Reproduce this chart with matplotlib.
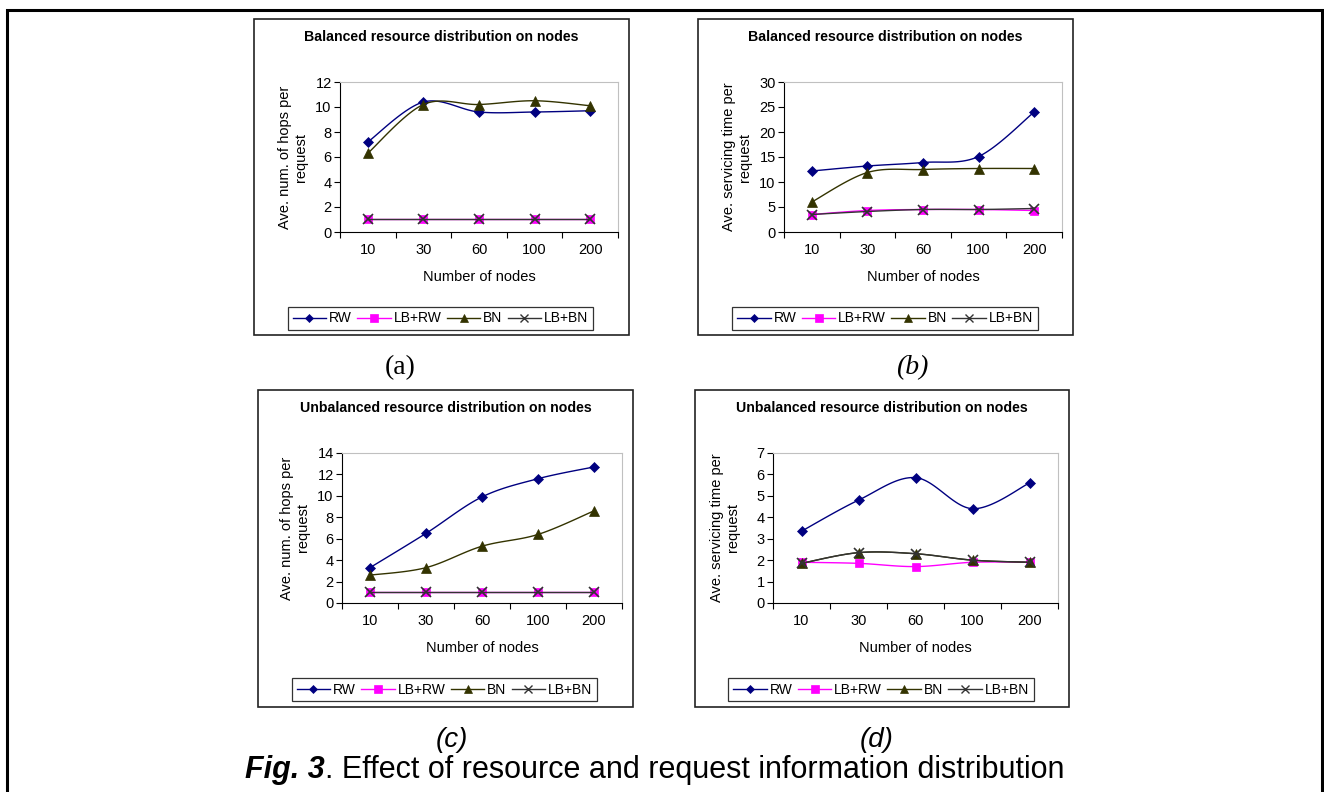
import numpy as np
import matplotlib
matplotlib.use("Agg")
import matplotlib.pyplot as plt
from matplotlib.patches import Rectangle
from matplotlib.lines import Line2D

plt.rcParams['font.family'] = ['Liberation Sans', 'DejaVu Sans']

W, H = 1324, 792

nodes = ["10", "30", "60", "100", "200"]
series_names = ["RW", "LB+RW", "BN", "LB+BN"]

# (a) balanced, hops
a_rw = [7.2, 10.4, 9.6, 9.6, 9.7]
a_lbrw = [1.05, 1.05, 1.05, 1.05, 1.05]
a_bn = [6.3, 10.2, 10.2, 10.5, 10.1]
a_lbbn = [1.05, 1.05, 1.05, 1.05, 1.05]

# (b) balanced, servicing time
b_rw = [12.2, 13.2, 13.9, 15.1, 24.0]
b_lbrw = [3.5, 4.3, 4.5, 4.5, 4.3]
b_bn = [6.0, 11.9, 12.5, 12.7, 12.7]
b_lbbn = [3.5, 4.1, 4.5, 4.5, 4.7]

# (c) unbalanced, hops
c_rw = [3.3, 6.5, 9.9, 11.6, 12.7]
c_lbrw = [1.0, 1.0, 1.0, 1.0, 1.0]
c_bn = [2.6, 3.3, 5.3, 6.4, 8.6]
c_lbbn = [1.0, 1.0, 1.0, 1.0, 1.0]

# (d) unbalanced, servicing time
d_rw = [3.35, 4.8, 5.85, 4.4, 5.6]
d_lbrw = [1.9, 1.85, 1.7, 1.9, 1.9]
d_bn = [1.85, 2.35, 2.3, 2.0, 1.9]
d_lbbn = [1.85, 2.35, 2.3, 2.0, 1.9]

colors = ["#000080", "#ff00ff", "#333300", "#333333"]
markers = ["D", "s", "^", "x"]
msizes = [5, 6, 6.5, 6.5]


def px(x0, y0, x1, y1):
    # pixel box (top-left origin) -> figure fraction rect
    return [x0 / W, 1 - y1 / H, (x1 - x0) / W, (y1 - y0) / H]


def smooth(y):
    # excel style smoothed line: cubic bezier with catmull-rom tangents
    x = np.arange(len(y), dtype=float)
    y = np.asarray(y, dtype=float)
    pts = np.c_[x, y]
    out = []
    for i in range(len(pts) - 1):
        p0 = pts[max(i - 1, 0)]
        p1 = pts[i]
        p2 = pts[i + 1]
        p3 = pts[min(i + 2, len(pts) - 1)]
        c1 = p1 + (p2 - p0) / 6.0
        c2 = p2 - (p3 - p1) / 6.0
        t = np.linspace(0, 1, 25)[:, None]
        seg = ((1 - t) ** 3) * p1 + 3 * ((1 - t) ** 2) * t * c1 + 3 * (1 - t) * t ** 2 * c2 + t ** 3 * p2
        out.append(seg if i == 0 else seg[1:])
    out = np.vstack(out)
    return out[:, 0], out[:, 1]


def panel(fig, frame, area, legend_box, title, ylabel, ymax, ystep, data):
    fig.patches.append(Rectangle((frame[0], frame[1]), frame[2], frame[3],
                                 transform=fig.transFigure, fill=False,
                                 edgecolor="#222222", linewidth=1.2))
    ax = fig.add_axes(area)
    for vals, c, m, ms in zip(data, colors, markers, msizes):
        sx, sy = smooth(vals)
        ax.plot(sx, sy, color=c, linewidth=1.0)
        ax.plot(np.arange(len(vals)), vals, linestyle="none", marker=m,
                color=c, markersize=ms, markeredgewidth=1.2 if m == "x" else 0.5)
    ax.set_xlim(-0.5, len(nodes) - 0.5)
    ax.set_ylim(0, ymax)
    ax.set_yticks(np.arange(0, ymax + 0.01, ystep))
    ax.set_xticks(np.arange(len(nodes)))
    ax.set_xticklabels(nodes)
    ax.set_xticks(np.arange(-0.5, len(nodes)), minor=True)
    ax.tick_params(axis="x", which="major", length=0, pad=8, labelsize=10.5)
    ax.tick_params(axis="x", which="minor", length=4, direction="out", width=0.8)
    ax.tick_params(axis="y", length=4, direction="out", width=0.8, labelsize=10.5, pad=2)
    for s in ["top", "right"]:
        ax.spines[s].set_color("#c0c0c0")
    for s in ["left", "bottom"]:
        ax.spines[s].set_color("black")
    ax.set_xlabel("Number of nodes", fontsize=10.5, labelpad=9)
    ax.set_ylabel(ylabel, fontsize=10.5, multialignment="center")
    ax.yaxis.set_label_coords(-0.115, 0.5)
    cx = frame[0] + frame[2] * 0.5
    fig.text(cx, frame[1] + frame[3] - 18 / H, title, ha="center", va="center",
             fontsize=10.2, fontweight="bold")
    handles = [Line2D([], [], color=c, marker=m, markersize=ms * 0.9, linewidth=1.0,
                      markeredgewidth=1.0 if m == "x" else 0.5)
               for c, m, ms in zip(colors, markers, msizes)]
    leg = fig.legend(handles, series_names, loc="center",
                     bbox_to_anchor=legend_box, ncol=4, fontsize=10,
                     handlelength=2.4, handletextpad=0.2, columnspacing=0.4,
                     borderpad=0.35, borderaxespad=0, fancybox=False, frameon=True,
                     numpoints=1)
    leg.get_frame().set_edgecolor("black")
    leg.get_frame().set_linewidth(0.9)
    return ax


fig = plt.figure(figsize=(W / 100, H / 100), dpi=100)

# outer frame of the figure
fig.patches.append(Rectangle((7 / W, -0.05), 1315 / W, 1.05 - 10 / H,
                             transform=fig.transFigure, fill=False,
                             edgecolor="black", linewidth=2.2))

panel(fig, px(254, 19, 629, 335), px(340, 82, 618, 232), (440.5 / W, 1 - 318.5 / H),
      "Balanced resource distribution on nodes", "Ave. num. of hops per\nrequest",
      12, 2, [a_rw, a_lbrw, a_bn, a_lbbn])
panel(fig, px(698, 19, 1073, 335), px(784, 82, 1062, 232), (885 / W, 1 - 318.5 / H),
      "Balanced resource distribution on nodes", "Ave. servicing time per\nrequest",
      30, 5, [b_rw, b_lbrw, b_bn, b_lbbn])
panel(fig, px(258, 390, 633, 707), px(342, 453, 622, 603), (444.5 / W, 1 - 689.5 / H),
      "Unbalanced resource distribution on nodes", "Ave. num. of hops per\nrequest",
      14, 2, [c_rw, c_lbrw, c_bn, c_lbbn])
panel(fig, px(695, 390, 1069, 707), px(773, 453, 1058, 603), (881 / W, 1 - 689.5 / H),
      "Unbalanced resource distribution on nodes", "Ave. servicing time per\nrequest",
      7, 1, [d_rw, d_lbrw, d_bn, d_lbbn])

serif = ["Liberation Serif", "DejaVu Serif"]
fig.text(400 / W, 1 - 368 / H, "(a)", ha="center", va="center", fontsize=20, family=serif)
fig.text(912 / W, 1 - 368 / H, "(b)", ha="center", va="center", fontsize=20,
         style="italic", family=serif)
fig.text(452 / W, 1 - 740 / H, "(c)", ha="center", va="center", fontsize=20, style="italic")
fig.text(877 / W, 1 - 740 / H, "(d)", ha="center", va="center", fontsize=20, style="italic")

t1 = fig.text(245 / W, 1 - 770 / H, "Fig. 3", ha="left", va="center", fontsize=22,
              fontweight="bold", style="italic")
fig.canvas.draw()
bb = t1.get_window_extent()
fig.text(bb.x1 / W, 1 - 770 / H, ". Effect of resource and request information distribution",
         ha="left", va="center", fontsize=22)

fig.savefig("out.png", dpi=100)
